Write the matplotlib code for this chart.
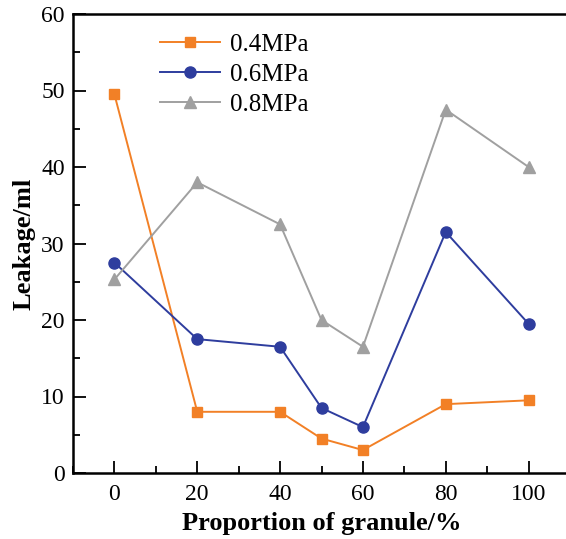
import numpy as np
import matplotlib.pyplot as plt
from matplotlib.ticker import MultipleLocator

plt.rcParams['font.family'] = ['Liberation Serif', 'DejaVu Serif']
plt.rcParams['mathtext.fontset'] = 'stix'

# Daten
granule = [0, 20, 40, 50, 60, 80, 100]
p04 = [49.5, 8.0, 8.0, 4.5, 3.0, 9.0, 9.5]
p06 = [27.5, 17.5, 16.5, 8.5, 6.0, 31.5, 19.5]
p08 = [25.3, 38.0, 32.5, 20.0, 16.5, 47.5, 40.0]

fig = plt.figure(figsize=(5.66, 5.39), dpi=100)
ax = fig.add_axes([73/566, 66/539, 497/566, 459/539])

ax.plot(granule, p04, color='#F28026', marker='s', markersize=7.5, lw=1.4, label='0.4MPa')
ax.plot(granule, p06, color='#2E3D9E', marker='o', markersize=8, lw=1.4, label='0.6MPa')
ax.plot(granule, p08, color='#A0A0A0', marker='^', markersize=8.5, lw=1.4, label='0.8MPa')

ax.set_xlim(-10, 110)
ax.set_ylim(0, 60)
ax.xaxis.set_major_locator(MultipleLocator(20))
ax.xaxis.set_minor_locator(MultipleLocator(10))
ax.yaxis.set_major_locator(MultipleLocator(10))
ax.yaxis.set_minor_locator(MultipleLocator(5))
ax.tick_params(which='both', direction='in', labelsize=17, width=1.3)
ax.tick_params(which='major', length=9)
ax.tick_params(which='minor', length=5)
ax.tick_params(axis='x', pad=8)
ax.tick_params(axis='y', pad=6)
for s in ax.spines.values():
    s.set_linewidth(1.8)

ax.set_xlabel('Proportion of granule/%', fontsize=19, fontweight='bold', labelpad=5)
ax.set_ylabel('Leakage/ml', fontsize=19, fontweight='bold', labelpad=4)

ax.legend(loc='upper left', bbox_to_anchor=(0.13, 1.007), frameon=False, fontsize=18,
          handlelength=2.4, handletextpad=0.4, labelspacing=0.3)

fig.savefig('out.png', dpi=100)
